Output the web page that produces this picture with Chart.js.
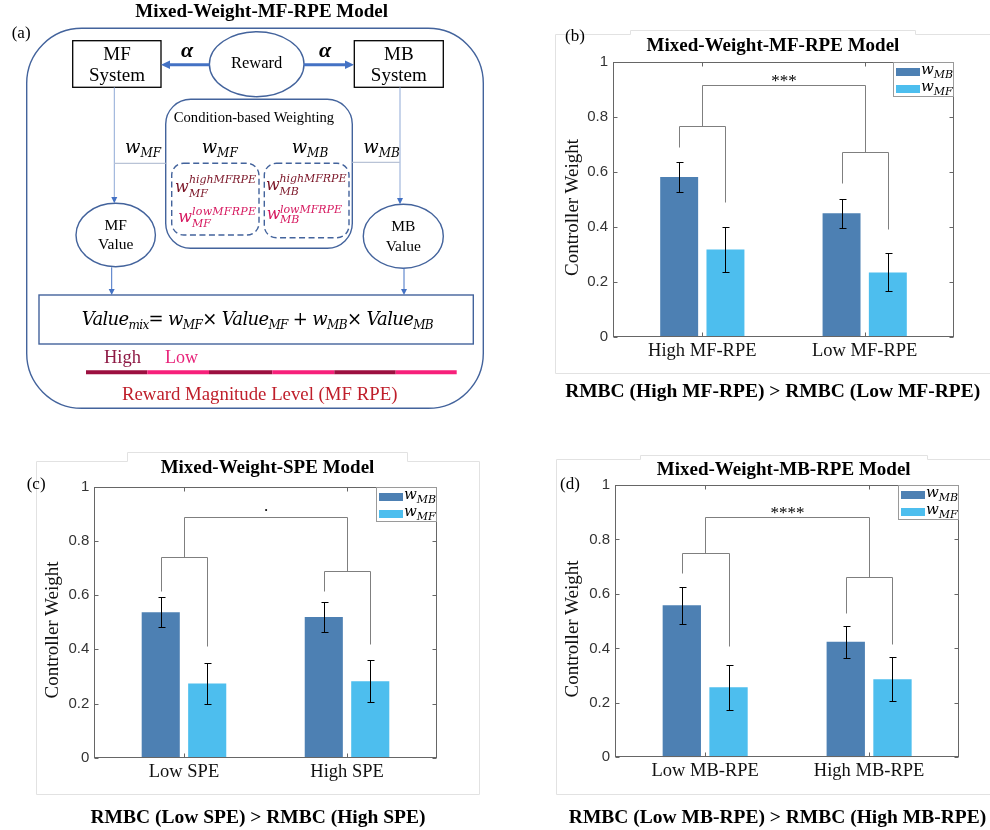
<!DOCTYPE html>
<html><head><meta charset="utf-8">
<script src="https://cdn.jsdelivr.net/npm/chart.js@4.4.1/dist/chart.umd.min.js"></script>
<style>
html,body{margin:0;padding:0;background:#fff;}
#wrap{position:relative;width:990px;height:830px;overflow:hidden;background:#fff;}
canvas{position:absolute;}
#ov{position:absolute;left:0;top:0;}
</style></head><body><div id="wrap">
<canvas id="cb" width="450" height="350" style="left:540px;top:30px;width:450px;height:350px"></canvas>
<canvas id="cc" width="470" height="340" style="left:20px;top:450px;width:470px;height:340px"></canvas>
<canvas id="cd" width="450" height="340" style="left:540px;top:450px;width:450px;height:340px"></canvas>
<svg id="ov" width="990" height="830" xmlns="http://www.w3.org/2000/svg">
<!-- panel frames -->
<g fill="none" stroke="#e2e2e2" stroke-width="1">
 <polyline points="990,34.5 915.5,34.5 915.5,30.5 630.5,30.5 630.5,34.5 555.5,34.5 555.5,373.5 990,373.5"/>
 <polyline points="36.5,461.5 127.5,461.5 127.5,452.5 407.5,452.5 407.5,461.5 479.5,461.5 479.5,794.5 36.5,794.5 36.5,461.5"/>
 <polyline points="990,459.5 927.5,459.5 927.5,455.5 640.5,455.5 640.5,459.5 556.5,459.5 556.5,794.5 990,794.5"/>
</g>
<!-- panel (a) diagram -->
<g fill="none" stroke="#43639c" stroke-width="1.4">
 <rect x="26.7" y="28.3" width="456.6" height="380" rx="55"/>
 <ellipse cx="256.7" cy="64.2" rx="47.3" ry="32.5" fill="#fff"/>
 <rect x="165.7" y="99.3" width="186.6" height="149" rx="25"/>
 <rect x="171.7" y="163.3" width="87.3" height="71.7" rx="12" stroke-dasharray="6 3.5"/>
 <rect x="264.3" y="163.3" width="84.7" height="74.4" rx="12" stroke-dasharray="6 3.5"/>
 <ellipse cx="115.7" cy="235" rx="39.7" ry="31.7"/>
 <ellipse cx="403.3" cy="236.2" rx="40" ry="32"/>
 <rect x="39" y="295" width="434.3" height="49"/>
</g>
<g fill="#fff" stroke="#000" stroke-width="1.3">
 <rect x="72.7" y="40.7" width="88.3" height="46.6"/>
 <rect x="354.3" y="40.7" width="89" height="46.6"/>
</g>
<g stroke="#4472c4" stroke-width="3">
 <line x1="209.5" y1="64.7" x2="168" y2="64.7"/>
 <line x1="304" y1="64.7" x2="347" y2="64.7"/>
</g>
<g fill="#4472c4">
 <polygon points="161,64.7 170,60.5 170,68.9"/>
 <polygon points="354,64.7 345,60.5 345,68.9"/>
</g>
<g stroke="#8fa9d6" stroke-width="1">
 <line x1="114.3" y1="87.3" x2="114.3" y2="199"/>
 <line x1="400" y1="87.3" x2="400" y2="200"/>
</g>
<g stroke="#b9c3d6" stroke-width="1.3">
 <line x1="114.3" y1="163.3" x2="165.7" y2="163.3"/>
 <line x1="352.3" y1="162.3" x2="400" y2="162.3"/>
</g>
<g stroke="#4472c4" stroke-width="1">
 <line x1="111.7" y1="267.3" x2="111.7" y2="291"/>
 <line x1="404" y1="268" x2="404" y2="291"/>
</g>
<g fill="#4472c4">
 <polygon points="114.3,203.3 111.3,197 117.3,197"/>
 <polygon points="400,204.2 397,198 403,198"/>
 <polygon points="111.7,295 108.7,289 114.7,289"/>
 <polygon points="404,295 401,289 407,289"/>
</g>
<g font-family="Liberation Serif" fill="#000" text-anchor="middle">
 <text x="117" y="60" font-size="19">MF</text>
 <text x="117" y="81" font-size="19">System</text>
 <text x="398.8" y="60" font-size="19">MB</text>
 <text x="398.8" y="81" font-size="19">System</text>
 <text x="256.7" y="68.3" font-size="16.5">Reward</text>
 <text x="254" y="122.3" font-size="14.6">Condition-based Weighting</text>
 <text x="115.7" y="230" font-size="15.5">MF</text>
 <text x="115.7" y="249.3" font-size="15.5">Value</text>
 <text x="403.3" y="230.7" font-size="15.5">MB</text>
 <text x="403.3" y="250.7" font-size="15.5">Value</text>
 <text x="187" y="57" font-size="22" font-weight="bold" font-style="italic">α</text>
 <text x="325" y="57" font-size="22" font-weight="bold" font-style="italic">α</text>
</g>
<g font-family="DejaVu Serif" font-style="italic" fill="#000">
 <text x="125" y="153" font-size="18">w<tspan font-size="12" dy="4">MF</tspan></text>
 <text x="201.7" y="153" font-size="18">w<tspan font-size="12" dy="4">MF</tspan></text>
 <text x="291.7" y="153" font-size="18">w<tspan font-size="12" dy="4">MB</tspan></text>
 <text x="363.3" y="153" font-size="18">w<tspan font-size="12" dy="4">MB</tspan></text>
</g>
<g font-family="DejaVu Serif" font-style="italic">
 <text fill="#7a1426"><tspan x="175" y="191.7" font-size="16">w</tspan><tspan x="189" y="183.3" font-size="11" textLength="67">highMFRPE</tspan><tspan x="189" y="196.7" font-size="11">MF</tspan></text>
 <text fill="#d6185f"><tspan x="178.3" y="221.7" font-size="16">w</tspan><tspan x="192" y="215" font-size="11" textLength="64">lowMFRPE</tspan><tspan x="192" y="227.3" font-size="11">MF</tspan></text>
 <text fill="#7a1426"><tspan x="266" y="190" font-size="16">w</tspan><tspan x="279.5" y="181.7" font-size="11" textLength="67">highMFRPE</tspan><tspan x="279.5" y="195" font-size="11">MB</tspan></text>
 <text fill="#d6185f"><tspan x="266.7" y="219.3" font-size="16">w</tspan><tspan x="280" y="212.7" font-size="11" textLength="62">lowMFRPE</tspan><tspan x="280" y="223.3" font-size="11">MB</tspan></text>
</g>
<text x="81.7" y="325" font-family="DejaVu Serif" font-style="italic" font-size="18" textLength="352" lengthAdjust="spacing">Value<tspan font-size="12" dy="4">mix</tspan><tspan dy="-4" font-style="normal">=</tspan> w<tspan font-size="12" dy="4">MF</tspan><tspan dy="-4" font-style="normal">×</tspan> Value<tspan font-size="12" dy="4">MF</tspan><tspan dy="-4" font-style="normal"> + </tspan>w<tspan font-size="12" dy="4">MB</tspan><tspan dy="-4" font-style="normal">×</tspan> Value<tspan font-size="12" dy="4">MB</tspan></text>
<g font-family="Liberation Serif">
 <text x="104" y="362.7" font-size="18.5" fill="#8e1a45">High</text>
 <text x="165" y="363.3" font-size="18" fill="#e8247a">Low</text>
 <text x="259.7" y="400" font-size="18.8" fill="#bf1e2a" text-anchor="middle">Reward Magnitude Level (MF RPE)</text>
</g>
<g stroke-width="4">
 <line x1="86" y1="372.3" x2="147.3" y2="372.3" stroke="#9c1040"/>
 <line x1="147.3" y1="372.3" x2="209" y2="372.3" stroke="#f7207a"/>
 <line x1="209" y1="372.3" x2="272.3" y2="372.3" stroke="#9c1040"/>
 <line x1="272.3" y1="372.3" x2="334.3" y2="372.3" stroke="#f7207a"/>
 <line x1="334.3" y1="372.3" x2="395.7" y2="372.3" stroke="#9c1040"/>
 <line x1="395.7" y1="372.3" x2="456.7" y2="372.3" stroke="#f7207a"/>
</g>
<!-- titles, letters, captions, y titles -->
<g font-family="Liberation Serif" font-weight="bold" fill="#000" text-anchor="middle" font-size="19">
 <text x="261.7" y="17.3">Mixed-Weight-MF-RPE Model</text>
 <text x="773" y="50.7">Mixed-Weight-MF-RPE Model</text>
 <text x="267.5" y="472.7">Mixed-Weight-SPE Model</text>
 <text x="783.7" y="475">Mixed-Weight-MB-RPE Model</text>
</g>
<g font-family="Liberation Serif" font-weight="bold" fill="#000" text-anchor="middle" font-size="19.5">
 <text x="772.7" y="396.7">RMBC (High MF-RPE) &gt; RMBC (Low MF-RPE)</text>
 <text x="258" y="823.3">RMBC (Low SPE) &gt; RMBC (High SPE)</text>
 <text x="777.5" y="823">RMBC (Low MB-RPE) &gt; RMBC (High MB-RPE)</text>
</g>
<g font-family="Liberation Serif" fill="#000" font-size="17">
 <text x="11.7" y="37.5">(a)</text>
 <text x="565" y="40.5">(b)</text>
 <text x="26.7" y="489">(c)</text>
 <text x="560" y="489">(d)</text>
</g>
<g font-family="Liberation Serif" fill="#111" font-size="19" text-anchor="middle">
 <text transform="translate(578,207.5) rotate(-90)">Controller Weight</text>
 <text transform="translate(58,630) rotate(-90)">Controller Weight</text>
 <text transform="translate(578,629) rotate(-90)">Controller Weight</text>
</g>
<g id="legends"></g>
</svg>
</div>
<script>
// ---------- data ----------
const yTicks = [0, 0.2, 0.4, 0.6, 0.8, 1];
const seriesNames = ['MB', 'MF'];

const catsB = ['High MF-RPE', 'Low MF-RPE'];
const mbB = [0.582, 0.450];
const mfB = [0.318, 0.235];
const mbErrB = [0.055, 0.052];
const mfErrB = [0.082, 0.069];
const pairsB = [[0.692, 0.766, 0.490], [0.561, 0.674, 0.392]];
const spanB = 0.916;
const sigB = '***';

const catsC = ['Low SPE', 'High SPE'];
const mbC = [0.537, 0.519];
const mfC = [0.274, 0.282];
const mbErrC = [0.055, 0.054];
const mfErrC = [0.075, 0.077];
const pairsC = [[0.616, 0.739, 0.413], [0.616, 0.689, 0.418]];
const spanC = 0.888;
const sigC = '.';

const catsD = ['Low MB-RPE', 'High MB-RPE'];
const mbD = [0.558, 0.424];
const mfD = [0.257, 0.287];
const mbErrD = [0.067, 0.059];
const mfErrD = [0.082, 0.082];
const pairsD = [[0.676, 0.751, 0.410], [0.529, 0.661, 0.416]];
const spanD = 0.881;
const sigD = '****';

// ---------- styles ----------
const COL_MB = '#4D80B3', COL_MF = '#4DBEEE';

function overlayPlugin(errs, pairs, span, sig, sigDy) {
  return {
    id: 'overlay',
    afterDatasetsDraw(chart) {
      const ctx = chart.ctx, ys = chart.scales.y, xs = chart.scales.x;
      const px = v => Math.round(v) + 0.5;
      ctx.save();
      ctx.lineWidth = 1;
      ctx.strokeStyle = '#000';
      [0, 1].forEach(d => {
        const meta = chart.getDatasetMeta(d);
        const vals = chart.data.datasets[d].data;
        meta.data.forEach((bar, i) => {
          const v = vals[i].y, e = errs[d][i];
          const x = px(bar.x);
          const y1 = px(ys.getPixelForValue(v + e)), y2 = px(ys.getPixelForValue(v - e));
          ctx.beginPath();
          ctx.moveTo(x, y1); ctx.lineTo(x, y2);
          ctx.moveTo(x - 3, y1); ctx.lineTo(x + 4, y1);
          ctx.moveTo(x - 3, y2); ctx.lineTo(x + 4, y2);
          ctx.stroke();
        });
      });
      ctx.strokeStyle = '#7f7f7f';
      const m0 = chart.getDatasetMeta(0).data, m1 = chart.getDatasetMeta(1).data;
      const tops = [];
      pairs.forEach((p, i) => {
        const xa = px(m0[i].x), xb = px(m1[i].x);
        const yt = px(ys.getPixelForValue(p[1]));
        ctx.beginPath();
        ctx.moveTo(xa, px(ys.getPixelForValue(p[0])));
        ctx.lineTo(xa, yt); ctx.lineTo(xb, yt);
        ctx.lineTo(xb, px(ys.getPixelForValue(p[2])));
        ctx.stroke();
        tops.push([px(xs.getPixelForValue(i + 1)), yt]);
      });
      const yS = px(ys.getPixelForValue(span));
      ctx.beginPath();
      ctx.moveTo(tops[0][0], tops[0][1]); ctx.lineTo(tops[0][0], yS);
      ctx.lineTo(tops[1][0], yS); ctx.lineTo(tops[1][0], tops[1][1]);
      ctx.stroke();
      ctx.fillStyle = '#000';
      ctx.font = '17px "Liberation Serif"';
      ctx.textAlign = 'center';
      ctx.textBaseline = 'alphabetic';
      ctx.fillText(sig, (tops[0][0] + tops[1][0]) / 2, yS + sigDy);
      ctx.restore();
    },
    afterDraw(chart) {
      const ctx = chart.ctx, a = chart.chartArea, ys = chart.scales.y, xs = chart.scales.x;
      const L = Math.round(a.left) + 0.5, R = Math.round(a.right) - 0.5;
      const T = Math.round(a.top) + 0.5, B = Math.round(a.bottom) - 0.5;
      ctx.save();
      ctx.strokeStyle = '#666';
      ctx.lineWidth = 1;
      ctx.strokeRect(L, T, R - L, B - T);
      ctx.beginPath();
      yTicks.forEach(v => {
        const y = Math.round(ys.getPixelForValue(v)) + 0.5;
        ctx.moveTo(L, y); ctx.lineTo(L + 4, y);
        ctx.moveTo(R, y); ctx.lineTo(R - 4, y);
      });
      xs.ticks.forEach(t => {
        const x = Math.round(xs.getPixelForValue(t.value)) + 0.5;
        ctx.moveTo(x, B); ctx.lineTo(x, B - 4);
        ctx.moveTo(x, T); ctx.lineTo(x, T + 4);
      });
      ctx.stroke();
      ctx.restore();
    }
  };
}

function makeChart(id, cats, mb, mf, mbErr, mfErr, pairs, span, sig, sigDy, geo) {
  return new Chart(document.getElementById(id), {
    type: 'bar',
    data: {
      datasets: [
        { label: 'w_MB', data: cats.map((c, i) => ({ x: i + 1, y: mb[i] })), backgroundColor: COL_MB, borderWidth: 0 },
        { label: 'w_MF', data: cats.map((c, i) => ({ x: i + 1, y: mf[i] })), backgroundColor: COL_MF, borderWidth: 0 }
      ]
    },
    options: {
      responsive: false, animation: false, devicePixelRatio: 1,
      categoryPercentage: 0.57, barPercentage: 0.82,
      layout: { padding: { left: 0, top: geo.top, right: geo.right, bottom: 0 } },
      plugins: { legend: { display: false }, tooltip: { enabled: false }, title: { display: false } },
      scales: {
        x: {
          type: 'linear', min: 0.45, max: 2.55, offset: false,
          afterBuildTicks: s => { s.ticks = cats.map((c, i) => ({ value: i + 1 })); },
          ticks: { callback: (v, i) => cats[i], font: { family: 'Liberation Serif', size: 18.5 }, color: '#111', padding: 3, autoSkip: false, maxRotation: 0 },
          grid: { display: false, drawTicks: false }, border: { display: false },
          afterFit: s => { s.height = geo.xh; }
        },
        y: {
          min: 0, max: 1,
          afterBuildTicks: s => { s.ticks = yTicks.map(v => ({ value: v })); },
          ticks: { callback: v => String(v), font: { family: 'Liberation Sans', size: 15 }, color: '#333', padding: 5 },
          grid: { display: false, drawTicks: false }, border: { display: false },
          title: { display: false },
          afterFit: s => { s.width = geo.yw; }
        }
      }
    },
    plugins: [overlayPlugin([mbErr, mfErr], pairs, span, sig, sigDy)]
  });
}

const chB = makeChart('cb', catsB, mbB, mfB, mbErrB, mfErrB, pairsB, spanB, sigB, 0.5, { top: 32, right: 36, yw: 73, xh: 43 });
const chC = makeChart('cc', catsC, mbC, mfC, mbErrC, mfErrC, pairsC, spanC, sigC, -6.5, { top: 36.7, right: 53.3, yw: 74.3, xh: 32.3 });
const chD = makeChart('cd', catsD, mbD, mfD, mbErrD, mfErrD, pairsD, spanD, sigD, 0.5, { top: 35, right: 30.7, yw: 75, xh: 32.7 });

function addLegend(chart, ox, oy) {
  const a = chart.chartArea;
  const R = ox + Math.round(a.right), T = oy + Math.round(a.top);
  const cols = [COL_MB, COL_MF];
  let s = `<rect x="${R - 61 + 0.5}" y="${T + 0.5}" width="60" height="34" fill="#fff" stroke="#9a9a9a" stroke-width="1"/>`;
  seriesNames.forEach((n, k) => {
    const yy = T + 6 + k * 17;
    s += `<rect x="${R - 58}" y="${yy}" width="24" height="8" fill="${cols[k]}"/>`;
    s += `<text x="${R - 33}" y="${yy + 6}" font-family="DejaVu Serif" font-style="italic" font-size="15" fill="#000">w<tspan font-size="11" dy="4">${n}</tspan></text>`;
  });
  document.getElementById('legends').insertAdjacentHTML('beforeend', s);
}
addLegend(chB, 540, 30);
addLegend(chC, 20, 450);
addLegend(chD, 540, 450);
</script>
</body></html>
